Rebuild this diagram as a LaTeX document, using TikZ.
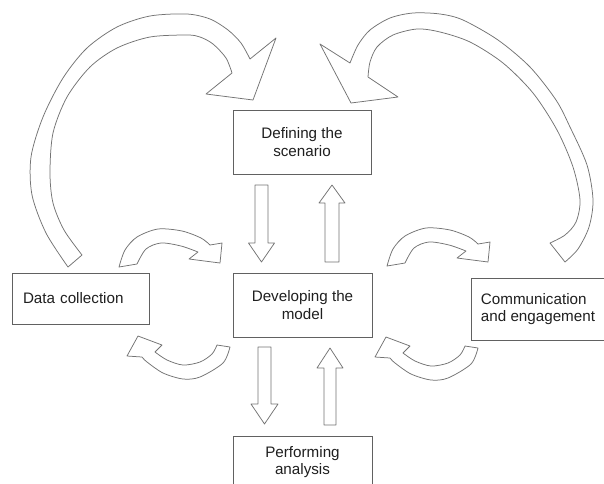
\documentclass[tikz,border=0pt]{standalone}
\usepackage{fontspec}
\setmainfont{Liberation Sans}
\begin{document}
\begin{tikzpicture}[x=1pt,y=-1pt,
  box/.style={draw=black!62, line width=0.8pt, fill=white, inner sep=0pt,
    font=\fontsize{15.2}{17.5}\selectfont, text=black!88},
  blk/.style={draw=black!55, line width=0.75pt, fill=white, line join=round},
  smallR/.pic={
    \draw[blk] plot[smooth] coordinates {(119,267) (125,250) (137,237) (158,229) (182,231) (201,238) (210,245)}
      -- (222,243) -- (220,263) -- (189,259) -- (198,252)
      -- plot[smooth] coordinates {(198,252) (181,246) (161,243) (146,249) (137,264)} -- cycle;
  },
  smallL/.pic={
    \draw[blk] plot[smooth] coordinates {(230,347) (223,363) (200,377) (183,379) (163,373) (147,362) (142,357)}
      -- (127,356) -- (138,336) -- (162,345) -- (155,352)
      -- plot[smooth] coordinates {(155,352) (167,360) (183,365) (200,362) (212,354) (217,345)} -- cycle;
  }]
\useasboundingbox (0,0) rectangle (604,483);
\clip (0,0) rectangle (604,483);

% boxes
\node[box, minimum width=138, minimum height=64, align=center] (def) at (302,142) {Defining the\\scenario};
\node[box, minimum width=139, minimum height=64, align=center] (dev) at (302.5,305) {Developing the\\model};
\node[box, minimum width=139, minimum height=52, align=center] (perf) at (302.5,462) {Performing\\analysis};
\node[box, minimum width=137, minimum height=51, text width=115, align=left] (data) at (80.5,298.5) {Data collection};
\node[box, minimum width=134, minimum height=62, align=left] (comm) at (538,309) {Communication\\and engagement};

% big left arc
\draw[blk] plot[smooth] coordinates {(68,267) (46,233) (32,195) (31,157) (43,117) (63,78) (87,48) (117,27) (150,16) (187,14) (210,19) (228,30) (241,43) (250,59)}
  -- (276,38) -- (253,100) -- (206,94) -- (232,73)
  -- plot[smooth] coordinates {(232,73) (226,58) (213,44) (200,37) (187,35) (150,37) (117,48) (90,67) (67,97) (53,133) (50,173) (53,203) (64,230) (82,255)}
  -- cycle;

% big right arc
\draw[blk] plot[smooth] coordinates {(565,262) (578,249) (589,227) (593,200) (587,165) (570,127) (556,100) (530,67) (498,40) (463,20) (440,14) (413,13) (390,18) (370,30) (358,45) (350,63)}
  -- (320,44) -- (351,103) -- (398,97) -- (368,77)
  -- plot[smooth] coordinates {(368,77) (370,62) (377,47) (393,35) (417,29) (440,32) (470,42) (503,63) (533,93) (557,130) (573,167) (580,200) (576,222) (565,235) (550,243)}
  -- cycle;

% small curved arrows
\pic at (0,0) {smallR};
\pic at (268,-1) {smallR};
\pic at (0,0) {smallL};
\pic at (248,1) {smallL};

% straight block arrows
\draw[blk] (255,185) -- (268,185) -- (268,243) -- (274.5,243) -- (261.5,262) -- (248.5,243) -- (255,243) -- cycle;
\draw[blk] (325,262) -- (339,262) -- (339,203) -- (345,203) -- (332,185) -- (319,203) -- (325,203) -- cycle;
\draw[blk] (258,347) -- (271,347) -- (271,404) -- (278,404) -- (264.5,424) -- (251,404) -- (258,404) -- cycle;
\draw[blk] (324,425) -- (336,425) -- (336,368) -- (343,368) -- (330,348) -- (317,368) -- (324,368) -- cycle;
\end{tikzpicture}
\end{document}
